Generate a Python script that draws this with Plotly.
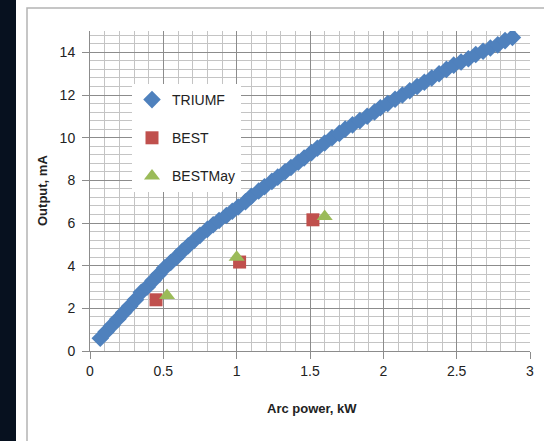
import plotly.graph_objects as go

# TRIUMF data (arc power kW, output mA)
triumf_x = [0.07, 0.11, 0.15, 0.19, 0.23, 0.27, 0.31, 0.35, 0.39, 0.43, 0.47, 0.51, 0.55, 0.59,
            0.63, 0.67, 0.71, 0.75, 0.80, 0.84, 0.88, 0.93, 0.97, 1.01, 1.06, 1.10, 1.15, 1.19,
            1.24, 1.28, 1.33, 1.37, 1.42, 1.46, 1.51, 1.55, 1.60, 1.65, 1.70, 1.74, 1.79, 1.84,
            1.89, 1.94, 1.98, 2.03, 2.08, 2.13, 2.18, 2.23, 2.28, 2.33, 2.38, 2.43, 2.48, 2.53,
            2.58, 2.63, 2.68, 2.73, 2.78, 2.83, 2.88]
triumf_y = [0.6, 0.9, 1.2, 1.5, 1.8, 2.1, 2.4, 2.75, 3.0, 3.3, 3.6, 3.9, 4.15, 4.4,
            4.68, 4.93, 5.18, 5.42, 5.7, 5.92, 6.12, 6.35, 6.55, 6.75, 7.0, 7.25, 7.5, 7.7,
            7.95, 8.15, 8.4, 8.6, 8.85, 9.05, 9.3, 9.5, 9.75, 10.0, 10.2, 10.4, 10.6, 10.8,
            11.0, 11.2, 11.4, 11.6, 11.8, 12.0, 12.2, 12.4, 12.6, 12.8, 13.0, 13.2, 13.4, 13.55,
            13.7, 13.9, 14.05, 14.2, 14.35, 14.55, 14.7]

best_x = [0.45, 1.02, 1.52]
best_y = [2.4, 4.17, 6.15]

bestmay_x = [0.525, 1.0, 1.6]
bestmay_y = [2.6, 4.4, 6.3]

x_ticks = [0, 0.5, 1, 1.5, 2, 2.5, 3]
x_ticklabels = ["0", "0.5", "1", "1.5", "2", "2.5", "3"]
y_ticks = [0, 2, 4, 6, 8, 10, 12, 14]
y_ticklabels = ["0", "2", "4", "6", "8", "10", "12", "14"]

FONT = "Liberation Sans"

fig = go.Figure()
fig.add_trace(go.Scatter(x=triumf_x, y=triumf_y, mode="markers", name="TRIUMF",
                         legendgroup="a",
                         marker=dict(symbol="diamond", size=13.5, color="#4F81BD",
                                     line=dict(width=0))))
fig.add_trace(go.Scatter(x=best_x, y=best_y, mode="markers", name="BEST",
                         legendgroup="b",
                         marker=dict(symbol="square", size=13, color="#C0504D")))
fig.add_trace(go.Scatter(x=bestmay_x, y=bestmay_y, mode="markers", name="BESTMay",
                         legendgroup="c",
                         marker=dict(symbol="triangle-up", size=14, color="#9BBB59")))

W, H = 544, 441
L, R, T, B = 90, 14, 31, 90
pw, ph = W - L - R, H - T - B


def px(x):
    return (x - L) / pw


def py(y):
    return (H - B - y) / ph


shapes = [
    # dark strip at left
    dict(type="rect", xref="paper", yref="paper", x0=px(-2), x1=px(16), y0=py(-2), y1=py(H + 2),
         fillcolor="#07111f", line=dict(width=0), layer="below"),
    # chart border
    dict(type="rect", xref="paper", yref="paper", x0=px(27), x1=px(W + 10), y0=py(H + 10), y1=py(8),
         fillcolor="rgba(0,0,0,0)", line=dict(color="#b4b4b4", width=1.5), layer="below"),
]

axis_common = dict(
    showline=True, linecolor="#8c8c8c", linewidth=1,
    ticks="outside", ticklen=7, tickcolor="#8c8c8c", tickwidth=1,
    showgrid=True, gridcolor="#8c8c8c", gridwidth=1,
    zeroline=False, automargin=False,
    tickfont=dict(family=FONT, size=14, color="#222222"),
)

fig.update_xaxes(range=[0, 3], tickvals=x_ticks, ticktext=x_ticklabels,
                 minor=dict(dtick=0.1, showgrid=True, gridcolor="#c4c4c4", gridwidth=1, ticks=""),
                 **axis_common)
fig.update_yaxes(range=[0, 15], tickvals=y_ticks, ticktext=y_ticklabels,
                 minor=dict(dtick=0.4, showgrid=True, gridcolor="#c4c4c4", gridwidth=1, ticks=""),
                 ticklabelstandoff=4,
                 **axis_common)

fig.update_layout(
    width=W, height=H,
    margin=dict(l=L, r=R, t=T, b=B, pad=0, autoexpand=False),
    paper_bgcolor="white", plot_bgcolor="white",
    shapes=shapes,
    showlegend=True,
    legend=dict(x=px(132), y=py(84), xanchor="left", yanchor="top",
                bgcolor="white", borderwidth=0, tracegroupgap=17,
                font=dict(family=FONT, size=14, color="#222222"),
                itemwidth=30),
    annotations=[
        dict(text="<b>Output, mA</b>", xref="paper", yref="paper", x=px(42), y=0.5,
             textangle=-90, showarrow=False, xanchor="center", yanchor="middle",
             font=dict(family=FONT, size=13, color="#222222")),
        dict(text="<b>Arc power, kW</b>", xref="paper", yref="paper", x=px(312), y=py(408),
             showarrow=False, xanchor="center", yanchor="middle",
             font=dict(family=FONT, size=13, color="#222222")),
    ],
)

fig.write_html("out.html", config={"displayModeBar": False},
               post_script="document.body.style.margin='0';")
